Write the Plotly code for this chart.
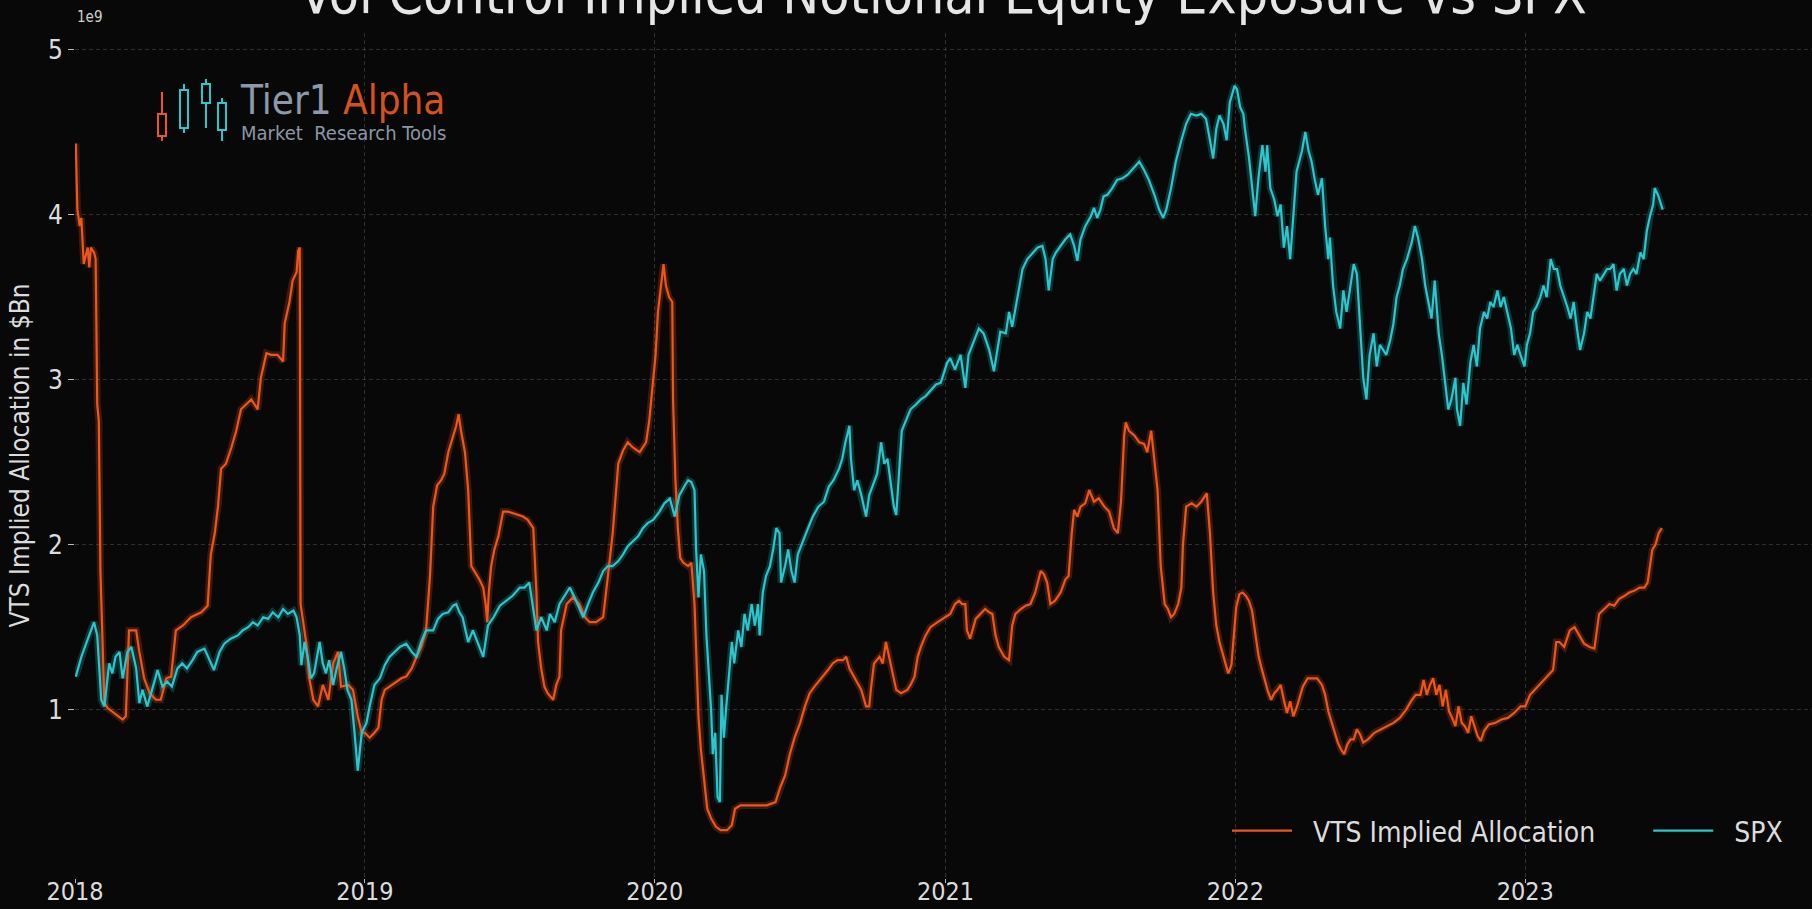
import plotly.graph_objects as go

# VTS implied allocation, $Bn
vts_2018 = [("2018-01-02", 4.43), ("2018-01-04", 4.03), ("2018-01-07", 3.93), ("2018-01-09", 3.98), ("2018-01-12", 3.70),
            ("2018-01-17", 3.80), ("2018-01-19", 3.68), ("2018-01-21", 3.80), ("2018-01-25", 3.77), ("2018-01-27", 3.73),
            ("2018-01-29", 2.85), ("2018-01-31", 2.75), ("2018-02-02", 1.84), ("2018-02-07", 1.04), ("2018-02-11", 1.01),
            ("2018-02-19", 0.98), ("2018-03-02", 0.94), ("2018-03-06", 0.96), ("2018-03-10", 1.48), ("2018-03-19", 1.48),
            ("2018-03-23", 1.35), ("2018-03-29", 1.19), ("2018-04-05", 1.10), ("2018-04-13", 1.06), ("2018-04-19", 1.06),
            ("2018-04-26", 1.19), ("2018-05-02", 1.20), ("2018-05-08", 1.48), ("2018-05-17", 1.51), ("2018-05-27", 1.56),
            ("2018-06-09", 1.59), ("2018-06-17", 1.63), ("2018-06-21", 1.94), ("2018-06-26", 2.07), ("2018-06-30", 2.23),
            ("2018-07-04", 2.46), ("2018-07-10", 2.49), ("2018-07-17", 2.59), ("2018-07-23", 2.69), ("2018-07-29", 2.82),
            ("2018-08-05", 2.85), ("2018-08-11", 2.88), ("2018-08-19", 2.82), ("2018-08-23", 3.01), ("2018-08-30", 3.16),
            ("2018-09-05", 3.15), ("2018-09-13", 3.15), ("2018-09-20", 3.11), ("2018-09-22", 3.34), ("2018-09-28", 3.47),
            ("2018-10-02", 3.60), ("2018-10-07", 3.65), ("2018-10-09", 3.78), ("2018-10-11", 3.80), ("2018-10-12", 1.64),
            ("2018-10-15", 1.55), ("2018-10-19", 1.41), ("2018-10-23", 1.19), ("2018-10-28", 1.06), ("2018-11-03", 1.02),
            ("2018-11-09", 1.15), ("2018-11-16", 1.06), ("2018-11-22", 1.28), ("2018-11-28", 1.35), ("2018-12-02", 1.14),
            ("2018-12-11", 1.15), ("2018-12-17", 1.12), ("2018-12-23", 0.96), ("2018-12-28", 0.86)]
vts_2019 = [("2019-01-01", 0.86), ("2019-01-07", 0.83), ("2019-01-13", 0.86), ("2019-01-18", 0.89), ("2019-01-22", 1.06),
            ("2019-01-26", 1.12), ("2019-02-01", 1.14), ("2019-02-10", 1.17), ("2019-02-16", 1.19), ("2019-02-22", 1.20),
            ("2019-03-01", 1.25), ("2019-03-07", 1.32), ("2019-03-13", 1.38), ("2019-03-19", 1.48), ("2019-03-24", 1.81),
            ("2019-03-28", 2.23), ("2019-04-02", 2.36), ("2019-04-07", 2.39), ("2019-04-11", 2.43), ("2019-04-16", 2.56),
            ("2019-04-22", 2.66), ("2019-04-26", 2.72), ("2019-04-29", 2.79), ("2019-05-02", 2.69), ("2019-05-07", 2.56),
            ("2019-05-11", 2.33), ("2019-05-15", 1.87), ("2019-05-19", 1.84), ("2019-05-25", 1.79), ("2019-05-30", 1.74),
            ("2019-06-02", 1.64), ("2019-06-04", 1.53), ("2019-06-06", 1.71), ("2019-06-09", 1.87), ("2019-06-13", 1.97),
            ("2019-06-18", 2.05), ("2019-06-24", 2.20), ("2019-06-30", 2.20), ("2019-07-11", 2.18), ("2019-07-19", 2.17),
            ("2019-07-25", 2.15), ("2019-08-01", 2.10), ("2019-08-05", 1.71), ("2019-08-07", 1.41), ("2019-08-11", 1.25),
            ("2019-08-15", 1.14), ("2019-08-19", 1.10), ("2019-08-26", 1.06), ("2019-08-30", 1.15), ("2019-09-03", 1.20),
            ("2019-09-05", 1.48), ("2019-09-12", 1.64), ("2019-09-20", 1.68), ("2019-09-28", 1.64), ("2019-10-05", 1.56),
            ("2019-10-11", 1.53), ("2019-10-19", 1.53), ("2019-10-28", 1.56), ("2019-11-03", 1.81), ("2019-11-09", 2.07),
            ("2019-11-16", 2.49), ("2019-11-22", 2.57), ("2019-11-28", 2.62), ("2019-12-04", 2.59), ("2019-12-13", 2.56),
            ("2019-12-21", 2.62), ("2019-12-25", 2.75), ("2019-12-30", 3.01)]
vts_2020 = [("2020-01-02", 3.15), ("2020-01-05", 3.41), ("2020-01-09", 3.57), ("2020-01-12", 3.70), ("2020-01-15", 3.57),
            ("2020-01-19", 3.50), ("2020-01-23", 3.47), ("2020-01-24", 2.88), ("2020-01-27", 2.39), ("2020-01-30", 2.10),
            ("2020-02-02", 1.92), ("2020-02-06", 1.89), ("2020-02-12", 1.87), ("2020-02-16", 1.89), ("2020-02-20", 1.64),
            ("2020-02-22", 1.35), ("2020-02-25", 0.96), ("2020-02-28", 0.76), ("2020-03-03", 0.57), ("2020-03-07", 0.40),
            ("2020-03-12", 0.34), ("2020-03-18", 0.29), ("2020-03-24", 0.27), ("2020-04-01", 0.27), ("2020-04-07", 0.30),
            ("2020-04-11", 0.40), ("2020-04-18", 0.42), ("2020-04-28", 0.42), ("2020-05-11", 0.42), ("2020-05-21", 0.42),
            ("2020-06-01", 0.44), ("2020-06-07", 0.53), ("2020-06-13", 0.60), ("2020-06-19", 0.73), ("2020-06-25", 0.83),
            ("2020-07-02", 0.92), ("2020-07-08", 1.02), ("2020-07-14", 1.10), ("2020-07-20", 1.14), ("2020-07-29", 1.19),
            ("2020-08-06", 1.24), ("2020-08-12", 1.28), ("2020-08-18", 1.30), ("2020-08-25", 1.30), ("2020-08-29", 1.32),
            ("2020-09-02", 1.25), ("2020-09-09", 1.19), ("2020-09-17", 1.12), ("2020-09-23", 1.02), ("2020-09-27", 1.02),
            ("2020-09-29", 1.12), ("2020-10-03", 1.28), ("2020-10-10", 1.32), ("2020-10-14", 1.28), ("2020-10-18", 1.41),
            ("2020-10-22", 1.32), ("2020-10-27", 1.19), ("2020-10-31", 1.12), ("2020-11-06", 1.10), ("2020-11-14", 1.12),
            ("2020-11-18", 1.15), ("2020-11-23", 1.20), ("2020-11-27", 1.32), ("2020-12-01", 1.38), ("2020-12-07", 1.45),
            ("2020-12-13", 1.50), ("2020-12-22", 1.53), ("2020-12-31", 1.56)]
vts_2021 = [("2021-01-07", 1.58), ("2021-01-13", 1.64), ("2021-01-18", 1.66), ("2021-01-22", 1.64), ("2021-01-26", 1.64),
            ("2021-01-28", 1.48), ("2021-02-01", 1.43), ("2021-02-08", 1.55), ("2021-02-14", 1.58), ("2021-02-20", 1.61),
            ("2021-02-25", 1.59), ("2021-03-01", 1.58), ("2021-03-05", 1.45), ("2021-03-09", 1.38), ("2021-03-16", 1.32),
            ("2021-03-22", 1.30), ("2021-03-26", 1.51), ("2021-03-30", 1.58), ("2021-04-06", 1.61), ("2021-04-12", 1.63),
            ("2021-04-18", 1.64), ("2021-04-24", 1.71), ("2021-05-01", 1.84), ("2021-05-05", 1.82), ("2021-05-09", 1.77),
            ("2021-05-13", 1.64), ("2021-05-19", 1.66), ("2021-05-26", 1.71), ("2021-06-01", 1.79), ("2021-06-05", 1.81),
            ("2021-06-09", 2.07), ("2021-06-12", 2.21), ("2021-06-16", 2.17), ("2021-06-20", 2.23), ("2021-06-26", 2.25),
            ("2021-07-01", 2.33), ("2021-07-07", 2.26), ("2021-07-13", 2.28), ("2021-07-20", 2.23), ("2021-07-26", 2.20),
            ("2021-08-01", 2.10), ("2021-08-06", 2.07), ("2021-08-10", 2.26), ("2021-08-14", 2.66), ("2021-08-16", 2.74),
            ("2021-08-20", 2.69), ("2021-08-27", 2.66), ("2021-09-02", 2.62), ("2021-09-08", 2.61), ("2021-09-12", 2.56),
            ("2021-09-17", 2.69), ("2021-09-21", 2.49), ("2021-09-25", 2.33), ("2021-09-29", 1.87), ("2021-10-04", 1.64),
            ("2021-10-08", 1.61), ("2021-10-12", 1.56), ("2021-10-16", 1.58), ("2021-10-21", 1.64), ("2021-10-25", 1.74),
            ("2021-10-27", 2.00), ("2021-10-31", 2.23), ("2021-11-07", 2.25), ("2021-11-13", 2.23), ("2021-11-19", 2.26),
            ("2021-11-26", 2.31), ("2021-11-30", 2.07), ("2021-12-04", 1.71), ("2021-12-08", 1.51), ("2021-12-12", 1.41),
            ("2021-12-17", 1.32), ("2021-12-23", 1.22), ("2021-12-27", 1.27)]
vts_2022 = [("2022-01-02", 1.62), ("2022-01-06", 1.70), ("2022-01-10", 1.71), ("2022-01-14", 1.69), ("2022-01-18", 1.66),
            ("2022-01-22", 1.60), ("2022-01-26", 1.45), ("2022-01-30", 1.33), ("2022-02-03", 1.25), ("2022-02-07", 1.18),
            ("2022-02-11", 1.11), ("2022-02-15", 1.06), ("2022-02-19", 1.10), ("2022-02-23", 1.12), ("2022-02-27", 1.15),
            ("2022-03-03", 1.06), ("2022-03-07", 0.98), ("2022-03-11", 1.05), ("2022-03-15", 0.96), ("2022-03-19", 1.01),
            ("2022-03-23", 1.08), ("2022-03-27", 1.14), ("2022-04-02", 1.19), ("2022-04-08", 1.19), ("2022-04-14", 1.19),
            ("2022-04-20", 1.15), ("2022-04-24", 1.09), ("2022-04-28", 0.99), ("2022-05-02", 0.93), ("2022-05-06", 0.86),
            ("2022-05-10", 0.80), ("2022-05-14", 0.76), ("2022-05-18", 0.73), ("2022-05-22", 0.79), ("2022-05-26", 0.82),
            ("2022-05-30", 0.82), ("2022-06-03", 0.88), ("2022-06-07", 0.85), ("2022-06-11", 0.80), ("2022-06-17", 0.82),
            ("2022-06-25", 0.86), ("2022-07-03", 0.88), ("2022-07-11", 0.90), ("2022-07-19", 0.92), ("2022-07-27", 0.95),
            ("2022-08-04", 1.00), ("2022-08-10", 1.05), ("2022-08-16", 1.09), ("2022-08-22", 1.09), ("2022-08-26", 1.18),
            ("2022-08-30", 1.09), ("2022-09-03", 1.15), ("2022-09-07", 1.19), ("2022-09-11", 1.09), ("2022-09-15", 1.15),
            ("2022-09-19", 1.02), ("2022-09-23", 1.12), ("2022-09-27", 0.99), ("2022-10-01", 0.95), ("2022-10-05", 0.90),
            ("2022-10-09", 1.02), ("2022-10-13", 0.92), ("2022-10-17", 0.90), ("2022-10-21", 0.86), ("2022-10-25", 0.96),
            ("2022-10-29", 0.90), ("2022-11-02", 0.84), ("2022-11-06", 0.81), ("2022-11-10", 0.87), ("2022-11-16", 0.91),
            ("2022-11-24", 0.92), ("2022-12-02", 0.94), ("2022-12-10", 0.95), ("2022-12-18", 0.98), ("2022-12-26", 1.02)]
vts_2023 = [("2023-01-01", 1.02), ("2023-01-07", 1.09), ("2023-01-13", 1.12), ("2023-01-19", 1.15), ("2023-01-26", 1.19),
            ("2023-02-01", 1.22), ("2023-02-05", 1.24), ("2023-02-09", 1.41), ("2023-02-13", 1.41), ("2023-02-19", 1.38),
            ("2023-02-26", 1.48), ("2023-03-04", 1.50), ("2023-03-10", 1.45), ("2023-03-16", 1.40), ("2023-03-23", 1.38),
            ("2023-03-29", 1.37), ("2023-04-04", 1.58), ("2023-04-11", 1.61), ("2023-04-17", 1.64), ("2023-04-23", 1.63),
            ("2023-04-29", 1.67), ("2023-05-06", 1.69), ("2023-05-12", 1.71), ("2023-05-18", 1.72), ("2023-05-25", 1.74),
            ("2023-05-31", 1.74), ("2023-06-04", 1.77), ("2023-06-07", 1.87), ("2023-06-10", 1.97), ("2023-06-14", 2.00),
            ("2023-06-18", 2.07), ("2023-06-22", 2.10)]

# SPX, rescaled onto the same axis (as plotted)
spx_2018 = [("2018-01-02", 1.20), ("2018-01-09", 1.32), ("2018-01-15", 1.40), ("2018-01-21", 1.48), ("2018-01-25", 1.53),
            ("2018-01-29", 1.45), ("2018-02-03", 1.06), ("2018-02-07", 1.02), ("2018-02-13", 1.28), ("2018-02-17", 1.22),
            ("2018-02-21", 1.32), ("2018-02-26", 1.35), ("2018-03-02", 1.19), ("2018-03-08", 1.35), ("2018-03-13", 1.38),
            ("2018-03-19", 1.25), ("2018-03-23", 1.04), ("2018-03-27", 1.12), ("2018-04-02", 1.02), ("2018-04-08", 1.12),
            ("2018-04-15", 1.24), ("2018-04-21", 1.14), ("2018-04-27", 1.17), ("2018-05-03", 1.14), ("2018-05-10", 1.25),
            ("2018-05-16", 1.28), ("2018-05-22", 1.25), ("2018-05-29", 1.30), ("2018-06-04", 1.35), ("2018-06-13", 1.37),
            ("2018-06-19", 1.30), ("2018-06-25", 1.24), ("2018-07-02", 1.35), ("2018-07-08", 1.40), ("2018-07-16", 1.43),
            ("2018-07-25", 1.45), ("2018-07-31", 1.48), ("2018-08-07", 1.50), ("2018-08-13", 1.53), ("2018-08-19", 1.51),
            ("2018-08-26", 1.56), ("2018-09-01", 1.55), ("2018-09-07", 1.59), ("2018-09-14", 1.56), ("2018-09-20", 1.61),
            ("2018-09-26", 1.58), ("2018-10-03", 1.60), ("2018-10-07", 1.56), ("2018-10-11", 1.45), ("2018-10-13", 1.27),
            ("2018-10-17", 1.41), ("2018-10-21", 1.32), ("2018-10-25", 1.19), ("2018-10-29", 1.22), ("2018-11-05", 1.41),
            ("2018-11-09", 1.28), ("2018-11-13", 1.22), ("2018-11-17", 1.30), ("2018-11-22", 1.15), ("2018-11-26", 1.24),
            ("2018-12-02", 1.35), ("2018-12-06", 1.25), ("2018-12-10", 1.12), ("2018-12-15", 1.06), ("2018-12-19", 0.86),
            ("2018-12-23", 0.63), ("2018-12-28", 0.86)]
spx_2019 = [("2019-01-03", 0.92), ("2019-01-07", 1.02), ("2019-01-13", 1.15), ("2019-01-20", 1.19), ("2019-01-26", 1.27),
            ("2019-02-01", 1.32), ("2019-02-08", 1.35), ("2019-02-14", 1.38), ("2019-02-22", 1.40), ("2019-03-01", 1.35),
            ("2019-03-07", 1.32), ("2019-03-13", 1.41), ("2019-03-19", 1.48), ("2019-03-28", 1.48), ("2019-04-03", 1.55),
            ("2019-04-09", 1.58), ("2019-04-16", 1.59), ("2019-04-22", 1.63), ("2019-04-26", 1.64), ("2019-04-30", 1.59),
            ("2019-05-04", 1.56), ("2019-05-11", 1.41), ("2019-05-17", 1.48), ("2019-05-23", 1.41), ("2019-05-30", 1.32),
            ("2019-06-05", 1.51), ("2019-06-12", 1.56), ("2019-06-20", 1.63), ("2019-06-28", 1.66), ("2019-07-06", 1.69),
            ("2019-07-15", 1.74), ("2019-07-21", 1.74), ("2019-07-27", 1.77), ("2019-08-01", 1.61), ("2019-08-05", 1.48),
            ("2019-08-11", 1.56), ("2019-08-18", 1.48), ("2019-08-22", 1.58), ("2019-08-28", 1.53), ("2019-09-03", 1.64),
            ("2019-09-10", 1.69), ("2019-09-16", 1.74), ("2019-09-22", 1.68), ("2019-09-28", 1.61), ("2019-10-03", 1.56),
            ("2019-10-09", 1.64), ("2019-10-15", 1.71), ("2019-10-22", 1.77), ("2019-10-28", 1.84), ("2019-11-03", 1.87),
            ("2019-11-09", 1.87), ("2019-11-16", 1.90), ("2019-11-22", 1.94), ("2019-11-28", 1.99), ("2019-12-04", 2.02),
            ("2019-12-11", 2.05), ("2019-12-17", 2.10), ("2019-12-23", 2.13), ("2019-12-30", 2.15)]
spx_2020 = [("2020-01-07", 2.20), ("2020-01-13", 2.25), ("2020-01-20", 2.28), ("2020-01-26", 2.17), ("2020-02-01", 2.30),
            ("2020-02-08", 2.36), ("2020-02-12", 2.39), ("2020-02-16", 2.38), ("2020-02-20", 2.33), ("2020-02-22", 1.97),
            ("2020-02-25", 1.68), ("2020-02-28", 1.94), ("2020-03-03", 1.84), ("2020-03-06", 1.45), ("2020-03-09", 1.25),
            ("2020-03-12", 0.99), ("2020-03-14", 0.73), ("2020-03-17", 0.86), ("2020-03-20", 0.47), ("2020-03-23", 0.44),
            ("2020-03-25", 1.09), ("2020-03-28", 0.83), ("2020-03-31", 1.02), ("2020-04-04", 1.25), ("2020-04-07", 1.41),
            ("2020-04-10", 1.28), ("2020-04-15", 1.48), ("2020-04-19", 1.38), ("2020-04-23", 1.58), ("2020-04-27", 1.48),
            ("2020-05-02", 1.64), ("2020-05-06", 1.51), ("2020-05-10", 1.64), ("2020-05-12", 1.45), ("2020-05-16", 1.71),
            ("2020-05-20", 1.81), ("2020-05-25", 1.87), ("2020-05-29", 1.97), ("2020-06-02", 2.10), ("2020-06-06", 2.07),
            ("2020-06-08", 1.77), ("2020-06-13", 1.87), ("2020-06-17", 1.97), ("2020-06-21", 1.84), ("2020-06-25", 1.77),
            ("2020-06-29", 1.94), ("2020-07-06", 2.02), ("2020-07-12", 2.10), ("2020-07-18", 2.17), ("2020-07-25", 2.23),
            ("2020-08-01", 2.26), ("2020-08-07", 2.35), ("2020-08-13", 2.39), ("2020-08-20", 2.46), ("2020-08-24", 2.52),
            ("2020-08-28", 2.62), ("2020-09-02", 2.72), ("2020-09-04", 2.52), ("2020-09-08", 2.33), ("2020-09-12", 2.39),
            ("2020-09-17", 2.30), ("2020-09-23", 2.17), ("2020-09-27", 2.30), ("2020-10-03", 2.38), ("2020-10-07", 2.43),
            ("2020-10-12", 2.62), ("2020-10-16", 2.49), ("2020-10-20", 2.52), ("2020-10-24", 2.39), ("2020-10-28", 2.23),
            ("2020-10-31", 2.18), ("2020-11-04", 2.49), ("2020-11-07", 2.69), ("2020-11-12", 2.75), ("2020-11-18", 2.82),
            ("2020-11-25", 2.85), ("2020-12-01", 2.88), ("2020-12-07", 2.90), ("2020-12-13", 2.93), ("2020-12-20", 2.97),
            ("2020-12-26", 2.98)]
spx_2021 = [("2021-01-03", 3.10), ("2021-01-07", 3.13), ("2021-01-13", 3.06), ("2021-01-20", 3.15), ("2021-01-26", 2.95),
            ("2021-01-30", 3.15), ("2021-02-06", 3.24), ("2021-02-12", 3.31), ("2021-02-18", 3.28), ("2021-02-25", 3.18),
            ("2021-03-03", 3.05), ("2021-03-07", 3.18), ("2021-03-11", 3.29), ("2021-03-18", 3.28), ("2021-03-22", 3.41),
            ("2021-03-26", 3.32), ("2021-04-02", 3.50), ("2021-04-08", 3.67), ("2021-04-14", 3.73), ("2021-04-21", 3.77),
            ("2021-04-27", 3.80), ("2021-05-03", 3.81), ("2021-05-07", 3.73), ("2021-05-11", 3.54), ("2021-05-16", 3.73),
            ("2021-05-20", 3.77), ("2021-05-26", 3.81), ("2021-06-01", 3.85), ("2021-06-07", 3.88), ("2021-06-12", 3.81),
            ("2021-06-16", 3.72), ("2021-06-20", 3.85), ("2021-06-26", 3.93), ("2021-07-03", 3.99), ("2021-07-07", 4.04),
            ("2021-07-11", 3.98), ("2021-07-15", 4.03), ("2021-07-19", 4.11), ("2021-07-24", 4.12), ("2021-07-30", 4.16),
            ("2021-08-05", 4.21), ("2021-08-12", 4.22), ("2021-08-18", 4.24), ("2021-08-24", 4.27), ("2021-08-28", 4.29),
            ("2021-09-02", 4.32), ("2021-09-08", 4.27), ("2021-09-14", 4.21), ("2021-09-21", 4.12), ("2021-09-27", 4.03),
            ("2021-10-02", 3.98), ("2021-10-06", 4.03), ("2021-10-12", 4.16), ("2021-10-18", 4.32), ("2021-10-25", 4.45),
            ("2021-10-31", 4.55), ("2021-11-06", 4.61), ("2021-11-13", 4.60), ("2021-11-19", 4.61), ("2021-11-25", 4.58),
            ("2021-11-30", 4.45), ("2021-12-04", 4.34), ("2021-12-08", 4.52), ("2021-12-12", 4.60), ("2021-12-17", 4.55),
            ("2021-12-21", 4.45), ("2021-12-25", 4.68), ("2021-12-31", 4.78)]
spx_2022 = [("2022-01-03", 4.76), ("2022-01-07", 4.65), ("2022-01-11", 4.61), ("2022-01-13", 4.52), ("2022-01-18", 4.35),
            ("2022-01-22", 4.16), ("2022-01-26", 3.99), ("2022-01-30", 4.22), ("2022-02-04", 4.42), ("2022-02-08", 4.26),
            ("2022-02-10", 4.42), ("2022-02-14", 4.16), ("2022-02-19", 4.09), ("2022-02-23", 3.99), ("2022-02-27", 4.06),
            ("2022-03-03", 3.80), ("2022-03-07", 3.93), ("2022-03-11", 3.73), ("2022-03-15", 4.03), ("2022-03-19", 4.26),
            ("2022-03-26", 4.39), ("2022-03-30", 4.50), ("2022-04-03", 4.39), ("2022-04-07", 4.32), ("2022-04-11", 4.21),
            ("2022-04-15", 4.12), ("2022-04-20", 4.22), ("2022-04-24", 3.93), ("2022-04-28", 3.73), ("2022-04-30", 3.86),
            ("2022-05-04", 3.57), ("2022-05-08", 3.41), ("2022-05-13", 3.31), ("2022-05-17", 3.54), ("2022-05-21", 3.41),
            ("2022-05-25", 3.54), ("2022-05-30", 3.70), ("2022-06-03", 3.64), ("2022-06-07", 3.31), ("2022-06-11", 3.01),
            ("2022-06-15", 2.88), ("2022-06-19", 3.15), ("2022-06-24", 3.28), ("2022-06-28", 3.08), ("2022-07-02", 3.21),
            ("2022-07-06", 3.18), ("2022-07-10", 3.15), ("2022-07-15", 3.24), ("2022-07-19", 3.34), ("2022-07-23", 3.50),
            ("2022-07-27", 3.57), ("2022-07-31", 3.67), ("2022-08-05", 3.73), ("2022-08-11", 3.83), ("2022-08-15", 3.93),
            ("2022-08-19", 3.86), ("2022-08-24", 3.73), ("2022-08-28", 3.57), ("2022-09-01", 3.47), ("2022-09-05", 3.37),
            ("2022-09-09", 3.60), ("2022-09-14", 3.28), ("2022-09-18", 3.15), ("2022-09-22", 2.98), ("2022-09-26", 2.82),
            ("2022-09-30", 2.88), ("2022-10-05", 3.01), ("2022-10-07", 2.82), ("2022-10-11", 2.72), ("2022-10-15", 2.98),
            ("2022-10-19", 2.85), ("2022-10-24", 3.11), ("2022-10-28", 3.21), ("2022-11-01", 3.08), ("2022-11-05", 3.31),
            ("2022-11-10", 3.41), ("2022-11-14", 3.37), ("2022-11-18", 3.47), ("2022-11-22", 3.44), ("2022-11-27", 3.54),
            ("2022-12-01", 3.44), ("2022-12-05", 3.50), ("2022-12-09", 3.41), ("2022-12-14", 3.31), ("2022-12-18", 3.15),
            ("2022-12-22", 3.21), ("2022-12-26", 3.15), ("2022-12-31", 3.08)]
spx_2023 = [("2023-01-03", 3.21), ("2023-01-07", 3.28), ("2023-01-11", 3.41), ("2023-01-15", 3.44), ("2023-01-20", 3.50),
            ("2023-01-24", 3.57), ("2023-01-28", 3.50), ("2023-02-02", 3.73), ("2023-02-06", 3.67), ("2023-02-10", 3.67),
            ("2023-02-14", 3.57), ("2023-02-19", 3.50), ("2023-02-23", 3.44), ("2023-02-27", 3.37), ("2023-03-03", 3.47),
            ("2023-03-07", 3.31), ("2023-03-11", 3.18), ("2023-03-16", 3.28), ("2023-03-20", 3.41), ("2023-03-24", 3.37),
            ("2023-03-28", 3.50), ("2023-04-01", 3.64), ("2023-04-05", 3.60), ("2023-04-10", 3.64), ("2023-04-14", 3.67),
            ("2023-04-18", 3.67), ("2023-04-22", 3.70), ("2023-04-26", 3.54), ("2023-04-30", 3.64), ("2023-05-05", 3.67),
            ("2023-05-09", 3.57), ("2023-05-13", 3.64), ("2023-05-17", 3.67), ("2023-05-21", 3.64), ("2023-05-26", 3.77),
            ("2023-05-30", 3.73), ("2023-06-03", 3.90), ("2023-06-07", 3.99), ("2023-06-11", 4.06), ("2023-06-13", 4.16),
            ("2023-06-17", 4.12), ("2023-06-21", 4.06), ("2023-06-23", 4.03)]

vts = vts_2018 + vts_2019 + vts_2020 + vts_2021 + vts_2022 + vts_2023
spx = spx_2018 + spx_2019 + spx_2020 + spx_2021 + spx_2022 + spx_2023

ORANGE = "#ee561c"
CYAN = "#2cc6cc"
FONT = "Liberation Sans Narrow, DejaVu Sans Condensed, Noto Sans, sans-serif"
BG = "#080808"
NB = "\u00a0"

W, H = 1812, 909
L, R, T, B = 75, 0, 33, 31


def px(x):
    return (x - L) / (W - L - R)


def py(y):
    return (H - B - y) / (H - T - B)


fig = go.Figure()

# soft glow under each line
for pts, col in [(vts, ORANGE), (spx, CYAN)]:
    fig.add_trace(go.Scatter(x=[d for d, _ in pts], y=[v for _, v in pts], mode="lines",
                             line=dict(color=col, width=7), opacity=0.22,
                             showlegend=False, hoverinfo="skip"))

fig.add_trace(go.Scatter(x=[d for d, _ in vts], y=[v for _, v in vts], mode="lines",
                         name=NB * 2 + "VTS Implied Allocation" + NB * 6, line=dict(color=ORANGE, width=2.2)))
fig.add_trace(go.Scatter(x=[d for d, _ in spx], y=[v for _, v in spx], mode="lines",
                         name=NB * 2 + "SPX", line=dict(color=CYAN, width=2.2)))

# logo: candlesticks
candles = [(162, 92, 141, 114, 136, ORANGE), (184, 84, 133, 90, 128, CYAN),
           (206, 79, 128, 84, 103, CYAN), (222, 98, 141, 103, 130, CYAN)]
shapes = []
for cx, w0, w1, b0, b1, col in candles:
    shapes.append(dict(type="line", xref="paper", yref="paper", x0=px(cx), x1=px(cx),
                       y0=py(w0), y1=py(w1), line=dict(color=col, width=2)))
    shapes.append(dict(type="rect", xref="paper", yref="paper", x0=px(cx - 4), x1=px(cx + 4),
                       y0=py(b0), y1=py(b1), line=dict(color=col, width=2), fillcolor=BG))

annotations = [
    dict(text="1e9", xref="paper", yref="paper", x=px(75), y=py(17), xanchor="left", yanchor="middle",
         showarrow=False, font=dict(size=15, color="#d0d0d0", family=FONT)),
    dict(text="<span style='color:#8d99aa'>Tier1</span> <span style='color:#d4521e'>Alpha</span>",
         xref="paper", yref="paper", x=px(238), y=py(100), xanchor="left", yanchor="middle",
         showarrow=False, font=dict(size=40, family=FONT)),
    dict(text="Market  Research Tools", xref="paper", yref="paper", x=px(239), y=py(133),
         xanchor="left", yanchor="middle", showarrow=False,
         font=dict(size=20, color="#8d96a3", family=FONT)),
]

grid = "rgba(150,150,150,0.28)"
fig.update_layout(
    width=W, height=H,
    margin=dict(l=L, r=R, t=T, b=B, autoexpand=False),
    paper_bgcolor=BG, plot_bgcolor=BG,
    font=dict(family=FONT, color="#dcdcdc"),
    title=dict(text="Vol Control Implied Notional Equity Exposure vs SPX", x=px(943), xanchor="center",
               xref="paper", yref="container", y=1 - 13 / H, yanchor="bottom",
               font=dict(size=55, color="#e6e6e6", family=FONT)),
    xaxis=dict(type="date", range=["2018-01-01", "2023-12-28"], dtick="M12", tick0="2018-01-01",
               tickformat="%Y", showgrid=True, gridcolor=grid, griddash="4px,3px", gridwidth=1,
               ticks="outside", ticklen=4, tickcolor="#bbbbbb", zeroline=False, showline=False,
               ticklabelstandoff=-13, tickfont=dict(size=25, color="#dcdcdc")),
    yaxis=dict(range=[-0.02, 5.1], tickvals=[1, 2, 3, 4, 5], showgrid=True, gridcolor=grid,
               griddash="4px,3px", gridwidth=1, ticks="outside", ticklen=6, tickcolor="#bbbbbb",
               zeroline=False, showline=False, tickfont=dict(size=26, color="#dcdcdc"),
               title=dict(text="VTS Implied Allocation in $Bn", font=dict(size=26, color="#dcdcdc"),
                          standoff=10)),
    legend=dict(orientation="h", x=px(1788), xanchor="right", y=py(831), yanchor="middle",
                bgcolor="rgba(0,0,0,0)", font=dict(size=28, color="#dcdcdc"), itemwidth=60),
    shapes=shapes,
    annotations=annotations,
    showlegend=True,
)

fig.write_html("out.html", config={"displayModeBar": False},
               post_script="document.body.style.margin='0';document.body.style.overflow='hidden';")
